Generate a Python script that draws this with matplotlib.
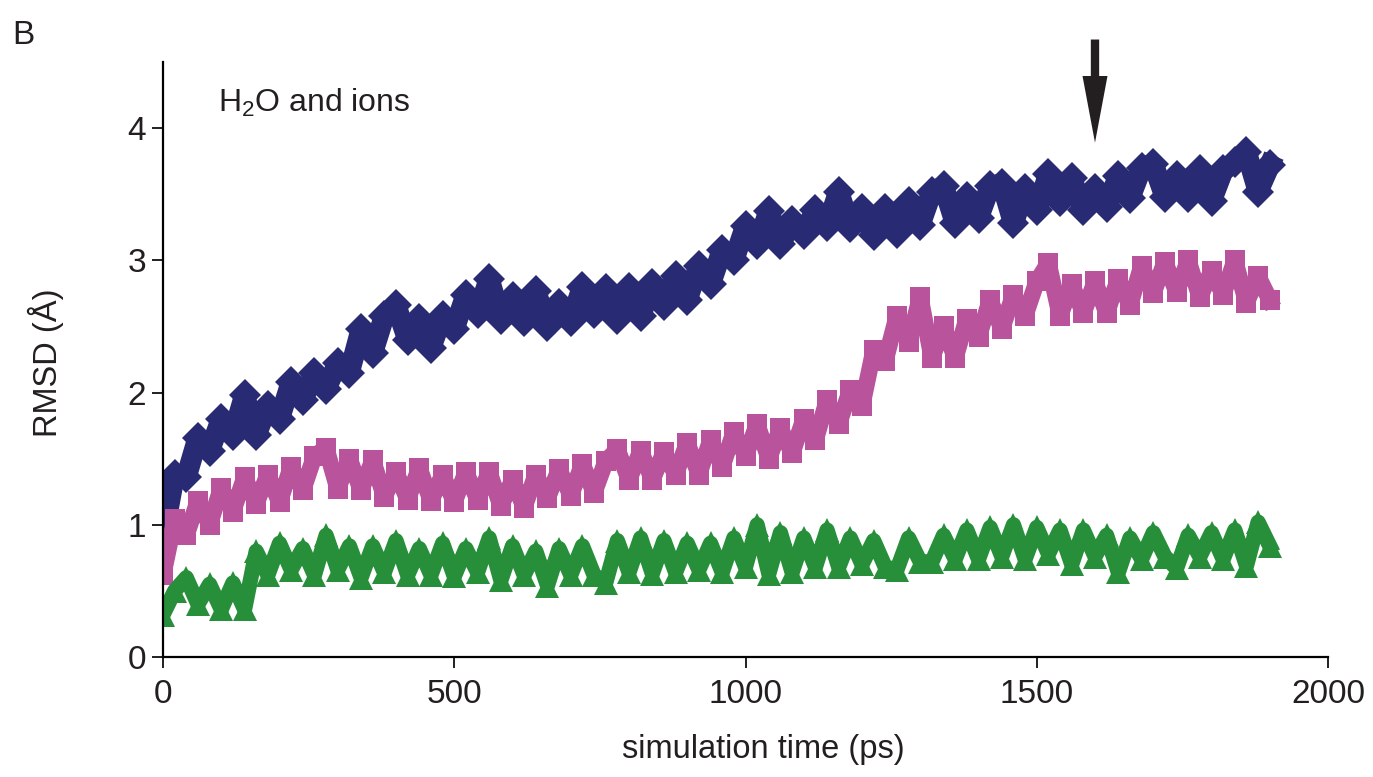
import numpy as np
import matplotlib
matplotlib.use("Agg")
import matplotlib.pyplot as plt

# sampling times (ps), one point every 20 ps
time_ps = np.arange(0, 1901, 20)

# RMSD values (Angstrom)
rmsd_blue = [
    0.90, 1.38, 1.36, 1.66, 1.56, 1.80, 1.68, 1.98, 1.68, 1.90,
    1.80, 2.08, 1.94, 2.15, 2.03, 2.22, 2.15, 2.48, 2.30, 2.58,
    2.66, 2.40, 2.56, 2.34, 2.58, 2.48, 2.74, 2.60, 2.86, 2.56,
    2.72, 2.54, 2.77, 2.50, 2.67, 2.54, 2.80, 2.60, 2.78, 2.56,
    2.79, 2.58, 2.82, 2.66, 2.88, 2.70, 2.96, 2.82, 3.08, 3.00,
    3.26, 3.12, 3.37, 3.12, 3.30, 3.20, 3.38, 3.26, 3.52, 3.25,
    3.39, 3.19, 3.39, 3.21, 3.44, 3.27, 3.52, 3.56, 3.28, 3.48,
    3.32, 3.56, 3.58, 3.28, 3.54, 3.38, 3.65, 3.45, 3.62, 3.38,
    3.54, 3.40, 3.64, 3.47, 3.70, 3.73, 3.48, 3.64, 3.48, 3.68,
    3.45, 3.68, 3.74, 3.82, 3.52, 3.72,
]

rmsd_magenta = [
    0.62, 1.04, 0.92, 1.18, 1.00, 1.28, 1.10, 1.36, 1.16, 1.38,
    1.17, 1.44, 1.26, 1.52, 1.58, 1.27, 1.50, 1.26, 1.49, 1.21,
    1.40, 1.19, 1.43, 1.18, 1.38, 1.17, 1.40, 1.19, 1.40, 1.14,
    1.34, 1.13, 1.38, 1.20, 1.42, 1.22, 1.46, 1.24, 1.48, 1.57,
    1.34, 1.56, 1.34, 1.55, 1.38, 1.62, 1.38, 1.64, 1.44, 1.70,
    1.52, 1.76, 1.50, 1.73, 1.54, 1.80, 1.64, 1.94, 1.76, 2.02,
    1.90, 2.32, 2.24, 2.58, 2.38, 2.72, 2.26, 2.50, 2.26, 2.56,
    2.42, 2.70, 2.48, 2.74, 2.58, 2.84, 2.98, 2.58, 2.82, 2.60,
    2.84, 2.60, 2.86, 2.66, 2.96, 2.75, 2.99, 2.76, 3.00, 2.72,
    2.92, 2.74, 3.00, 2.68, 2.88, 2.70,
]

rmsd_green = [
    0.32, 0.50, 0.60, 0.40, 0.55, 0.36, 0.56, 0.36, 0.80, 0.62,
    0.86, 0.66, 0.82, 0.62, 0.92, 0.66, 0.84, 0.60, 0.84, 0.64,
    0.88, 0.62, 0.82, 0.62, 0.86, 0.61, 0.82, 0.64, 0.90, 0.58,
    0.84, 0.62, 0.80, 0.54, 0.82, 0.62, 0.84, 0.62, 0.56, 0.88,
    0.64, 0.90, 0.63, 0.88, 0.64, 0.86, 0.66, 0.86, 0.64, 0.90,
    0.68, 1.00, 0.63, 0.94, 0.64, 0.90, 0.68, 0.96, 0.68, 0.90,
    0.70, 0.88, 0.68, 0.66, 0.90, 0.72, 0.72, 0.92, 0.74, 0.96,
    0.74, 0.98, 0.76, 1.00, 0.74, 0.98, 0.78, 0.96, 0.70, 0.96,
    0.76, 0.92, 0.64, 0.90, 0.74, 0.94, 0.76, 0.67, 0.92, 0.76,
    0.94, 0.74, 0.96, 0.69, 1.02, 0.84,
]

x_ticks = [0, 500, 1000, 1500, 2000]
y_ticks = [0, 1, 2, 3, 4]
arrow_time = 1600

plt.rcParams['font.family'] = ['Liberation Sans', 'DejaVu Sans']
plt.rcParams['mathtext.fontset'] = 'custom'
plt.rcParams['mathtext.rm'] = 'Liberation Sans'

fig = plt.figure(figsize=(13.73, 7.77), dpi=100)
ax = fig.add_axes([163 / 1373, 1 - 657 / 777, 1165 / 1373, 595 / 777])

# thick line of the same colour underneath so the dense band reads as solid
ax.plot(time_ps, rmsd_blue, color='#282a73', marker='D', markersize=16,
        markeredgewidth=0, linewidth=15)
ax.plot(time_ps, rmsd_magenta, color='#b8539c', marker='s', markersize=14,
        markeredgewidth=0, linewidth=12)
ax.plot(time_ps, rmsd_green, color='#278f3a', marker='^', markersize=17,
        markeredgewidth=0, linewidth=11)

ax.set_xlim(0, 2000)
ax.set_ylim(0, 4.5)
ax.set_xticks(x_ticks)
ax.set_yticks(y_ticks)

ax.spines['top'].set_visible(False)
ax.spines['right'].set_visible(False)
for s in ['left', 'bottom']:
    ax.spines[s].set_linewidth(1.6)
ax.tick_params(axis='both', direction='out', length=8, width=1.4,
               labelsize=24, colors='#231f20')
ax.tick_params(axis='x', pad=8)
ax.tick_params(axis='y', pad=4)

ax.set_xlabel('simulation time (ps)', fontsize=23.5, color='#231f20')
ax.set_ylabel('RMSD (Å)', fontsize=23.5, color='#231f20')
ax.xaxis.set_label_coords(0.515, -0.13)
ax.yaxis.set_label_coords(-0.085, 0.494)

ax.text(0.047, 0.958, 'H$_2$O and ions', transform=ax.transAxes,
        fontsize=23, color='#231f20', va='top', ha='left')
fig.text(12 / 1373, 1 - 44 / 777, 'B', fontsize=24, color='#231f20')

ax.annotate('', xy=(arrow_time, 3.89), xytext=(arrow_time, 4.67),
            arrowprops=dict(facecolor='#231f20', edgecolor='none', width=6,
                            headwidth=18, headlength=48, shrink=0),
            annotation_clip=False)

fig.savefig('out.png', dpi=100)
